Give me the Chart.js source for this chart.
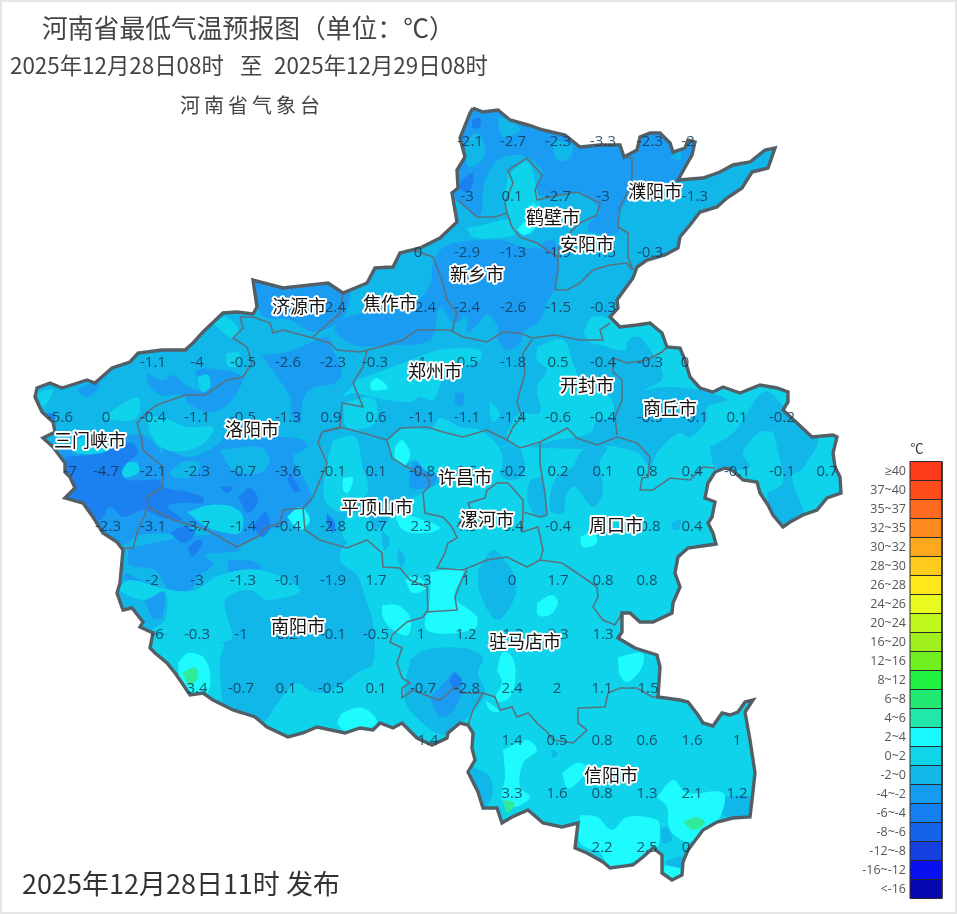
<!DOCTYPE html>
<html>
<head>
<meta charset="utf-8">
<title>河南省最低气温预报图</title>
<script src="https://cdn.jsdelivr.net/npm/chart.js@4/dist/chart.umd.min.js"></script>
<style>
html,body{margin:0;padding:0;background:#fff;}
#frame{position:fixed;left:0;top:0;right:0;bottom:0;border:2px solid #e6e6e6;pointer-events:none;}
canvas{display:block;}
</style>
</head>
<body>
<canvas id="mapChart" width="957" height="914"></canvas>
<div id="frame"></div>
<script>
/* ---------- province and city borders, in map units ---------- */

const provinceBorder = [
[473,108],[483,112],[498,110],[510,120],[528,125],[543,130],[565,135],[580,147],[600,145],[620,145],[624,157],[637,150],[640,137],[650,133],[660,133],[670,143],[673,152],[685,148],[688,140],[695,142],[692,155],[688,162],[678,180],[703,178],[720,172],[733,165],[750,162],[765,150],[775,148],[768,168],[752,172],[742,188],[727,198],[717,207],[700,212],[690,225],[680,237],[678,248],[665,255],[647,260],[637,267],[633,278],[622,293],[617,300],[618,308],[610,317],[620,327],[637,325],[650,323],[662,333],[667,347],[680,348],[685,360],[690,377],[700,388],[713,392],[723,387],[740,393],[760,385],[777,388],[788,392],[788,402],[783,410],[797,423],[812,437],[833,435],[837,437],[833,453],[835,467],[840,477],[841,493],[827,498],[817,510],[803,515],[790,522],[783,527],[773,515],[768,505],[760,493],[757,482],[743,480],[732,470],[725,468],[715,472],[708,483],[705,498],[715,502],[712,517],[708,523],[713,533],[716,544],[688,548],[678,557],[675,573],[680,587],[673,603],[672,613],[653,622],[640,622],[630,613],[622,613],[622,632],[618,638],[635,648],[657,655],[660,667],[658,697],[680,700],[688,702],[698,715],[703,723],[713,726],[722,713],[730,715],[738,712],[745,702],[753,700],[745,712],[750,740],[755,773],[752,800],[750,817],[733,818],[717,822],[703,830],[688,850],[683,862],[682,875],[672,880],[662,873],[662,855],[653,848],[643,857],[633,865],[610,868],[603,862],[587,853],[575,848],[578,823],[562,827],[543,823],[528,810],[512,817],[502,823],[497,808],[483,808],[478,792],[468,772],[475,760],[472,748],[473,733],[468,725],[460,723],[448,733],[447,738],[432,745],[417,738],[402,723],[393,728],[380,723],[373,730],[360,728],[345,733],[317,727],[303,733],[288,737],[267,727],[255,717],[243,713],[233,710],[213,700],[203,693],[190,695],[180,680],[175,673],[167,663],[155,653],[150,648],[153,633],[140,627],[143,622],[132,608],[123,610],[117,593],[120,583],[123,550],[117,542],[103,533],[93,517],[83,503],[65,498],[75,488],[70,477],[65,472],[65,463],[53,447],[43,438],[55,432],[53,422],[42,412],[35,397],[37,388],[50,383],[62,388],[87,380],[95,383],[112,368],[130,362],[138,353],[162,350],[185,350],[193,343],[203,332],[223,313],[237,312],[253,314],[257,307],[253,280],[283,288],[328,283],[343,293],[367,283],[375,268],[393,267],[400,253],[420,248],[440,238],[457,222],[452,193],[458,188],[457,170],[465,157],[460,138],[470,113]
];

const cityBorders = [
[[458,200],[477,217],[495,217],[507,213],[512,227],[520,237],[537,243],[547,250],[558,257],[558,270],[555,290],[567,290],[580,283],[593,270],[610,265],[627,263],[632,270]],
[[507,213],[505,203],[513,183],[508,170],[527,158],[542,175],[535,190],[537,200],[550,197],[577,192],[600,203],[597,215],[580,223],[560,242],[558,257]],
[[624,157],[632,158],[632,177],[627,193],[620,207],[618,227],[628,233],[628,257],[633,270]],
[[413,250],[433,257],[442,280],[447,300],[457,313],[452,332]],
[[343,293],[340,313],[313,337]],
[[240,317],[253,317],[270,323],[273,333],[283,330],[313,338],[330,343],[337,350],[360,352],[380,347],[403,340],[417,330],[450,330],[463,337],[487,342],[503,332],[520,333],[532,338],[555,335],[580,340],[603,340],[600,330],[610,323]],
[[240,317],[243,328],[233,338],[247,347],[252,363],[243,377],[227,380],[205,395],[185,395],[157,405],[147,412],[137,423],[142,440],[143,450],[163,467],[163,487],[147,497],[148,507],[137,533],[133,548],[120,548]],
[[148,507],[173,520],[207,530],[237,547],[257,537],[267,527],[280,523],[283,510],[303,508],[313,497],[327,463],[318,443],[322,432],[340,428],[342,403],[363,407],[353,383],[363,367],[367,350]],
[[322,432],[340,427],[363,433],[387,440],[400,428],[427,427],[443,432],[463,437],[487,430],[507,440],[520,448],[540,442],[560,432],[567,428],[577,438],[597,445],[617,437],[637,443],[650,457],[648,477],[642,478],[640,490],[653,490],[670,478],[690,480],[703,467],[715,468]],
[[613,358],[627,363],[647,360],[662,352],[667,347]],
[[613,358],[613,372],[622,380],[622,400],[615,417],[617,435]],
[[532,340],[523,353],[525,373],[517,402],[522,417],[513,427],[507,440]],
[[540,442],[540,465],[545,493],[547,515],[540,517],[523,512],[523,500],[508,483],[497,483],[487,490],[485,498],[468,503],[470,508],[457,527]],
[[387,440],[392,458],[403,465],[428,477],[430,485],[423,493],[425,513],[443,517],[452,527],[457,538],[448,543],[445,553],[437,568],[463,570],[487,560],[507,557],[527,567],[540,560],[543,550],[538,527],[522,532],[523,512]],
[[303,508],[305,530],[320,540],[330,543],[347,548],[367,540],[382,553],[383,567],[400,568],[410,580],[427,587],[428,610],[423,617],[407,622],[392,635],[390,642],[402,648],[397,663],[402,678],[410,683],[402,688],[402,698],[413,690],[433,698],[440,700],[455,687],[463,693],[483,693],[495,697],[500,710],[512,707],[517,717],[528,713],[537,723],[547,732],[553,740],[573,743],[587,730],[578,723],[578,708],[605,707],[608,693],[620,688],[637,688],[652,697],[658,697]],
[[425,612],[457,610],[455,597],[463,577],[467,570]],
[[483,693],[473,710],[468,725]],
[[540,560],[562,563],[577,573],[597,587],[598,597],[593,607],[603,620],[615,625],[622,613]]
];

/* ---------- temperature bands, traced as patches ---------- */

const bandMinus2to0 = [
[[400,90],[820,90],[820,170],[720,215],[650,280],[612,322],[628,352],[628,430],[600,447],[520,447],[500,447],[505,470],[470,470],[432,487],[415,497],[395,505],[385,525],[350,540],[340,560],[357,575],[366,600],[373,623],[373,663],[357,673],[333,690],[313,692],[297,683],[280,700],[260,725],[230,730],[222,697],[220,660],[223,643],[157,635],[120,640],[90,640],[20,600],[20,360],[200,300]],
[[620,353],[633,337],[643,340],[663,377],[645,390],[663,387],[700,390],[727,400],[707,407],[707,420],[690,437],[678,433],[657,453],[650,467],[638,453],[617,447],[600,443],[615,420],[613,377]],
[[710,447],[733,433],[747,413],[763,392],[775,397],[777,430],[760,432],[743,453],[750,467],[733,470],[715,467]],
[[775,397],[790,412],[818,437],[803,468],[792,477],[803,510],[803,525],[783,530],[767,495],[783,483],[777,447],[773,430]],
[[500,447],[518,447],[525,470],[515,480],[500,475]],
[[530,480],[542,478],[545,517],[535,515],[527,497]],
[[573,467],[583,450],[607,447],[600,463],[603,493],[593,507],[575,487],[567,493],[563,513],[550,510],[555,480]],
[[478,570],[493,550],[507,563],[515,577],[515,597],[497,620],[480,593]],
[[410,660],[425,650],[463,648],[483,657],[478,673],[485,693],[468,717],[460,723],[445,735],[425,725],[405,700]],
[[473,767],[490,777],[492,797],[483,807],[470,787]],
[[722,797],[752,797],[750,817],[723,815]],
[[660,830],[667,827],[672,840],[663,843]],
[[667,860],[683,857],[682,870],[667,865]],
[[551,750],[558,753],[553,758]],
[[672,523],[680,520],[680,528],[673,530]],
[[382,530],[390,540],[385,550],[382,543]],
[[398,548],[405,557],[402,567],[398,560]]
];

const bandMinus4to2 = [
[[445,95],[700,95],[705,170],[690,180],[640,185],[628,200],[618,215],[618,233],[590,232],[588,225],[600,210],[577,193],[547,197],[535,190],[543,173],[527,157],[503,157],[490,170],[483,190],[480,215],[465,208],[450,190]],
[[440,250],[453,243],[500,240],[523,247],[547,250],[558,257],[558,270],[555,287],[547,303],[540,320],[523,333],[520,343],[507,350],[498,340],[498,327],[487,315],[475,327],[467,333],[467,317],[453,323],[440,307],[430,340],[395,345],[355,345],[335,330],[345,318],[413,303],[430,285],[433,262]],
[[250,275],[345,280],[345,315],[315,332],[290,320],[262,315]],
[[262,355],[287,352],[310,343],[327,337],[333,350],[342,372],[335,383],[312,388],[303,400],[300,423],[292,417],[290,397],[277,377],[267,363]],
[[147,373],[163,380],[173,375],[190,388],[207,390],[197,380],[197,370],[223,370],[242,377],[237,393],[223,408],[207,412],[188,403],[183,395],[160,395],[148,383]],
[[77,390],[92,383],[100,385],[87,397]],
[[163,447],[190,457],[220,443],[227,433],[253,440],[280,437],[303,440],[307,447],[293,457],[305,480],[312,500],[300,512],[283,525],[270,530],[250,540],[235,548],[207,532],[183,520],[170,507],[180,503],[203,503],[203,497],[187,492],[163,487]],
[[60,450],[140,435],[165,460],[165,490],[200,500],[190,530],[140,535],[120,545],[90,520],[55,490]],
[[128,548],[210,535],[240,550],[205,555],[213,565],[200,575],[190,590],[170,590],[155,570],[130,565]],
[[228,560],[257,563],[263,580],[253,588],[230,587]],
[[267,587],[275,583],[283,588],[280,598],[270,593]],
[[127,573],[140,580],[163,590],[162,617],[153,618],[143,597],[130,583],[123,577]],
[[430,697],[445,682],[455,672],[462,690],[452,712],[440,717]],
[[542,243],[552,240],[558,250],[547,253]],
[[455,393],[463,393],[463,405],[456,405]],
[[413,463],[430,460],[437,477],[430,487],[410,487]]
];

const bandMinus2to0Upper = [
[[552,140],[572,145],[570,158],[557,160]],
[[465,143],[477,133],[485,147],[482,160],[468,167]],
[[497,117],[510,120],[520,130],[503,137]],
[[670,157],[680,152],[680,160]],
[[170,472],[183,462],[200,464],[192,477],[173,477]],
[[220,450],[260,447],[270,460],[260,473],[233,470]]
];

const band0to2 = [
[[147,417],[163,417],[187,427],[213,427],[207,440],[190,450],[167,450],[152,437]],
[[103,417],[137,397],[140,410],[133,420],[113,420]],
[[37,393],[53,390],[43,407]],
[[227,353],[240,353],[237,367],[227,365]],
[[213,323],[227,317],[240,333],[230,337]],
[[197,377],[208,375],[210,387],[202,392]],
[[70,440],[105,438],[110,450],[75,453]],
[[123,463],[137,463],[138,473],[123,477]],
[[187,512],[210,505],[233,507],[243,517],[240,533],[227,533],[207,527]],
[[508,175],[527,162],[537,190],[540,215],[530,235],[515,225],[505,205]],
[[467,228],[483,225],[510,220],[517,233],[497,238],[473,237]],
[[537,347],[563,340],[573,363],[583,383],[610,397],[613,417],[597,420],[590,433],[557,440],[517,447],[507,437],[512,423],[520,413],[540,413],[537,387],[547,370],[537,360]],
[[583,333],[593,317],[612,320],[625,335],[625,350],[600,345],[590,342]],
[[357,380],[403,363],[440,350],[480,350],[480,360],[447,373],[433,400],[420,397],[410,402],[387,400],[373,397],[353,393],[343,397],[360,377]],
[[343,403],[373,398],[377,417],[370,427],[347,427]],
[[490,402],[500,413],[493,422],[490,413]],
[[387,440],[407,427],[430,430],[440,418],[460,427],[480,430],[497,445],[503,460],[495,480],[470,480],[440,475],[425,470],[415,460],[400,465],[392,458]],
[[333,440],[355,437],[362,465],[368,490],[355,505],[340,512],[325,500],[325,475]],
[[350,510],[370,520],[370,545],[345,540],[343,525]],
[[117,590],[143,600],[165,592],[165,620],[153,630],[230,640],[225,600],[250,590],[267,600],[300,590],[260,570],[220,575],[195,590],[170,590],[130,580]]
];

const band2to4 = [
[[178,663],[188,653],[203,657],[210,673],[207,693],[188,695],[180,680]],
[[337,723],[343,713],[363,708],[377,723],[347,733]],
[[382,605],[397,605],[410,617],[408,635],[393,630],[383,618]],
[[430,572],[463,570],[455,597],[477,617],[473,630],[427,630],[430,597]],
[[405,580],[415,575],[427,587],[413,593]],
[[395,447],[402,440],[410,453],[405,465],[395,458]],
[[370,383],[377,378],[388,388],[372,390]],
[[343,478],[353,478],[348,493],[343,490]],
[[537,603],[552,595],[558,603],[550,615],[538,615]],
[[580,537],[593,532],[597,543],[583,547]],
[[618,657],[642,653],[642,667],[628,682],[620,675]],
[[497,670],[503,652],[513,658],[515,683],[507,700],[495,700],[502,682]],
[[503,750],[527,740],[537,750],[523,763],[520,787],[530,797],[515,807],[502,800],[505,777]],
[[562,773],[577,763],[587,767],[580,780],[568,788]],
[[657,797],[673,780],[687,793],[723,793],[720,817],[703,833],[688,842],[670,830],[667,807]],
[[580,815],[597,817],[612,830],[627,817],[657,820],[660,830],[658,847],[653,848],[637,860],[610,867],[600,853],[580,843]],
[[665,865],[682,870],[672,880],[664,873]],
[[485,700],[495,707],[500,712],[490,710]],
[[287,517],[300,507],[310,520],[300,530]],
[[517,230],[528,217],[533,203],[540,220],[525,235]],
[[393,510],[440,527],[427,533],[403,530]]
];

const band4to6 = [
[[182,673],[195,667],[198,677],[190,685]],
[[683,822],[697,817],[705,823],[693,830]],
[[503,800],[515,803],[507,813]]
];

const bandMinus6to4 = [
[[65,457],[103,453],[117,445],[132,443],[138,453],[127,463],[122,473],[128,480],[160,480],[163,487],[187,492],[203,497],[203,503],[180,503],[168,507],[183,520],[160,517],[143,510],[123,517],[110,507],[100,520],[87,510],[70,500]],
[[45,413],[55,415],[52,425],[45,440],[38,430]],
[[238,497],[250,488],[258,500],[248,513]],
[[253,527],[265,512],[270,527],[262,537]],
[[220,487],[233,487],[227,493]],
[[290,473],[300,490],[295,492],[288,480]],
[[170,533],[183,527],[195,533],[183,543]],
[[188,548],[197,540],[203,543],[192,557]],
[[327,513],[335,523],[333,533],[327,523]],
[[472,120],[480,118],[480,127],[473,128]],
[[462,180],[472,173],[473,183],[467,192],[460,188]],
[[455,672],[462,680],[455,690],[450,680]]
];

/* ---------- station values, one list per row of the grid ---------- */

const rowY = [142,197,253,308,363,418,472,527,581,635,689,741,794,848];

const rowX = [
[470,513,558,603,650,688],
[467,512,558,603,650,695],
[418,467,513,558,603,650],
[333,423,467,513,558,603],
[153,197,243,288,333,375,420,465,513,558,603,650,685],
[60,106,153,197,243,288,331,376,422,467,513,558,603,650,695,737,782],
[70,106,153,197,243,288,333,376,422,467,513,558,603,647,692,737,782,827],
[108,153,197,243,288,333,376,421,467,513,558,603,650,692],
[152,197,243,288,333,376,421,466,512,558,603,647],
[157,197,241,287,333,376,421,466,513,558,603],
[197,241,286,331,376,423,467,512,557,602,648],
[428,512,557,602,647,692,737],
[512,557,602,647,692,737],
[602,647,686]
];

const rowTemp = [
[-2.1,-2.7,-2.3,-3.3,-2.3,-2],
[-3,0.1,-2.7,-3,-0.5,-1.3],
[0,-2.9,-1.3,-1.9,-1.5,-0.3],
[-2.4,-2.4,-2.4,-2.6,-1.5,-0.3],
[-1.1,-4,-0.5,-2.6,-2.3,-0.3,-1,-0.5,-1.8,0.5,-0.4,-0.3,0],
[-5.6,0,-0.4,-1.1,-0.5,-1.3,0.9,0.6,-1.1,-1.1,-1.4,-0.6,-0.4,-0.9,-0.1,0.1,-0.2],
[-7,-4.7,-2.1,-2.3,-0.7,-3.6,-0.1,0.1,-0.8,0.5,-0.2,0.2,0.1,0.8,0.4,-0.1,-0.1,0.7],
[-2.3,-3.1,-3.7,-1.4,-0.4,-2.8,0.7,2.3,1.3,0.4,-0.4,0.3,0.8,0.4],
[-2,-3,-1.3,-0.1,-1.9,1.7,2.3,1,0,1.7,0.8,0.8],
[-6,-0.3,-1,0.2,-0.1,-0.5,1,1.2,1.3,0.3,1.3],
[3.4,-0.7,0.1,-0.5,0.1,-0.7,-2.8,2.4,2,1.1,1.5],
[1.4,1.4,0.5,0.8,0.6,1.6,1],
[3.3,1.6,0.8,1.3,2.1,1.2],
[2.2,2.5,0]
];

const cityNames = ["三门峡市","洛阳市","济源市","焦作市","新乡市","鹤壁市","安阳市","濮阳市","郑州市","开封市","商丘市","许昌市","平顶山市","漯河市","周口市","南阳市","驻马店市","信阳市"];
const cityX = [90,252,299,390,477,553,587,655,435,587,670,465,377,487,616,298,525,611];
const cityY = [440,429,306,303,274,217,244,191,371,385,408,477,507,519,525,626,641,775];

/* ---------- legend ---------- */

const legendLabels = ["≥40","37~40","35~37","32~35","30~32","28~30","26~28","24~26","20~24","16~20","12~16","8~12","6~8","4~6","2~4","0~2","-2~0","-4~-2","-6~-4","-8~-6","-12~-8","-16~-12","<-16"];
const legendColors = ["#ff3a1a","#ff4c1c","#ff6a20","#ff8a20","#ffaa1e","#ffcc1e","#ffe81a","#e8fa1e","#c0f81e","#a0f01e","#70f020","#20f040","#20e870","#20e8a8","#18faff","#10d4e8","#12b8e8","#149cf0","#1480f0","#1464e8","#1440e0","#0810f0","#0808b0"];

const COLD_2 = "#12b7ea", COLD_4 = "#1a9cf2", COLD_6 = "#1b80f0", WARM_2 = "#0fd3ea", WARM_4 = "#1dfbff", WARM_6 = "#30ea9a";

function toPoints(list){

    return list.map(p => ({x:p[0], y:p[1]}));

}

function patchDatasets(patches, colour){

    return patches.map(p => ({
        data: toPoints(p.concat([p[0]])),
        backgroundColor: colour,
        borderWidth: 0,
        fill: "shape",
        tension: 0.35,
        pointRadius: 0
    }));

}

/* painted in this order, the last one ends up on top */
const zones = [
    {data: toPoints(provinceBorder), backgroundColor: WARM_2, borderWidth: 0, fill: "shape", pointRadius: 0}
].concat(
    patchDatasets(bandMinus2to0, COLD_2),
    patchDatasets(bandMinus4to2, COLD_4),
    patchDatasets(bandMinus2to0Upper, COLD_2),
    patchDatasets(band0to2, WARM_2),
    patchDatasets(band2to4, WARM_4),
    patchDatasets(band4to6, WARM_6),
    patchDatasets(bandMinus6to4, COLD_6)
);

const borderLines = cityBorders.map(line => ({
    data: toPoints(line),
    borderColor: "#5a7280",
    borderWidth: 1.6,
    fill: false,
    pointRadius: 0
}));

borderLines.push({
    data: toPoints(provinceBorder.concat([provinceBorder[0]])),
    borderColor: "#535f66",
    borderWidth: 3.4,
    fill: false,
    pointRadius: 0
});

const stationPoints = [];
const stationLabels = [];

rowY.forEach((y, r) => {
    rowX[r].forEach((x, i) => {
        stationPoints.push({x:x, y:y});
        stationLabels.push(String(rowTemp[r][i]));
    });
});

const LEGEND_LEFT = 910, LEGEND_RIGHT = 942, LEGEND_TOP = 461.5, LEGEND_STEP = 19;

const legendBoxes = legendColors.map((colour, i) => {
    const top = LEGEND_TOP + i * LEGEND_STEP;
    return {
        data: [
            {x:LEGEND_LEFT, y:top},
            {x:LEGEND_RIGHT, y:top},
            {x:LEGEND_RIGHT, y:top + LEGEND_STEP},
            {x:LEGEND_LEFT, y:top + LEGEND_STEP},
            {x:LEGEND_LEFT, y:top}
        ],
        backgroundColor: colour,
        borderColor: "#2a2a2a",
        borderWidth: 1,
        fill: "shape",
        pointRadius: 0
    };
});

const stationSet = {data: stationPoints, pointRadius: 0, showLine: false};
const citySet = {data: cityX.map((x, i) => ({x:x, y:cityY[i]})), pointRadius: 0, showLine: false};

/* Chart.js paints dataset 0 last, so the list is reversed */
const allSets = zones.concat(borderLines, legendBoxes, [stationSet, citySet]).reverse();
const firstZoneIndex = allSets.length - zones.length;

/* ---------- plugins ---------- */

const clipToProvince = {

    id: "clipToProvince",

    beforeDatasetsDraw(chart){

        const ctx = chart.ctx;
        ctx.save();
        ctx.beginPath();
        provinceBorder.forEach((p, i) => {
            const px = chart.scales.x.getPixelForValue(p[0]);
            const py = chart.scales.y.getPixelForValue(p[1]);
            if(i === 0){ ctx.moveTo(px, py); } else { ctx.lineTo(px, py); }
        });
        ctx.closePath();
        ctx.clip();

    },

    afterDatasetDraw(chart, args){

        if(args.index === firstZoneIndex){
            chart.ctx.restore();
        }

    }

};

const textLayer = {

    id: "textLayer",

    afterDatasetsDraw(chart){

        const ctx = chart.ctx;
        const cjk = "'Noto Sans CJK SC', sans-serif";

        ctx.save();
        ctx.textBaseline = "middle";

        /* station values */
        ctx.textAlign = "center";
        ctx.font = "15px 'Open Sans', sans-serif";
        ctx.fillStyle = "rgba(20,55,85,.85)";
        chart.getDatasetMeta(allSets.indexOf(stationSet)).data.forEach((el, i) => {
            ctx.fillText(stationLabels[i], el.x, el.y);
        });

        /* city names with a white halo */
        ctx.font = "18px " + cjk;
        ctx.lineJoin = "round";
        chart.getDatasetMeta(allSets.indexOf(citySet)).data.forEach((el, i) => {
            ctx.strokeStyle = "#fff";
            ctx.lineWidth = 4;
            ctx.strokeText(cityNames[i], el.x, el.y);
            ctx.fillStyle = "#111";
            ctx.fillText(cityNames[i], el.x, el.y);
        });

        /* headings */
        ctx.fillStyle = "#444";
        ctx.textAlign = "left";
        ctx.font = "25.8px " + cjk;
        ctx.fillText("河南省最低气温预报图（单位：℃）", 42, 28);

        ctx.font = "22.4px " + cjk;
        ctx.fillText("2025年12月28日08时", 10, 65);
        ctx.fillText("至", 240, 65);
        ctx.fillText("2025年12月29日08时", 274, 65);

        ctx.font = "20px " + cjk;
        ctx.letterSpacing = "4px";
        ctx.fillText("河南省气象台", 180, 105);
        ctx.letterSpacing = "0px";

        ctx.fillStyle = "#333";
        ctx.font = "27px " + cjk;
        ctx.fillText("2025年12月28日11时 发布", 22, 884);

        /* legend labels */
        ctx.fillStyle = "#555";
        ctx.textAlign = "right";
        ctx.font = "12.5px 'Open Sans', sans-serif";
        legendLabels.forEach((label, i) => {
            ctx.fillText(label, 906, LEGEND_TOP + (i + 0.5) * LEGEND_STEP);
        });

        ctx.fillStyle = "#333";
        ctx.textAlign = "center";
        ctx.font = "13px " + cjk;
        ctx.fillText("℃", 917, 448);

        ctx.restore();

    }

};

/* ---------- chart ---------- */

new Chart(document.getElementById("mapChart").getContext("2d"), {

    type: "scatter",

    data: {
        datasets: allSets.map(set => Object.assign({showLine: true}, set))
    },

    options: {
        responsive: false,
        animation: false,
        events: [],
        layout: {padding: 0},
        scales: {
            x: {type: "linear", min: 0, max: 957, display: false},
            y: {type: "linear", min: 0, max: 914, reverse: true, display: false}
        },
        plugins: {
            legend: {display: false},
            tooltip: {enabled: false},
            title: {display: false}
        }
    },

    plugins: [clipToProvince, textLayer]

});
</script>
</body>
</html>
